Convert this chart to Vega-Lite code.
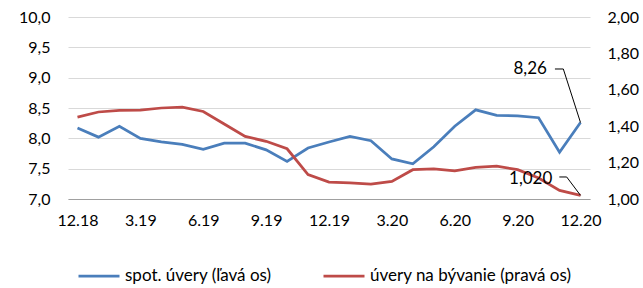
{
  "$schema": "https://vega.github.io/schema/vega-lite/v6.json",
  "width": 522,
  "height": 182,
  "autosize": "none",
  "padding": {"left": 68, "top": 17, "right": 53, "bottom": 89},
  "background": "white",
  "config": {
    "locale": {"number": {"decimal": ",", "thousands": " ", "grouping": [3], "currency": ["", " €"]}},
    "font": "Lato",
    "view": {"stroke": null},
    "axis": {"labelFont": "Lato", "labelFontSize": 16, "labelColor": "#000000", "ticks": false, "domain": false, "title": null, "grid": false},
    "legend": {"labelFont": "Lato", "labelFontSize": 17, "labelColor": "#000000", "labelLimit": 400}
  },
  "datasets": {
    "main": [
      {"t": 0, "spot": 8.17, "byv": 1.450},
      {"t": 1, "spot": 8.02, "byv": 1.478},
      {"t": 2, "spot": 8.20, "byv": 1.487},
      {"t": 3, "spot": 8.00, "byv": 1.489},
      {"t": 4, "spot": 7.94, "byv": 1.500},
      {"t": 5, "spot": 7.90, "byv": 1.505},
      {"t": 6, "spot": 7.82, "byv": 1.481},
      {"t": 7, "spot": 7.92, "byv": 1.412},
      {"t": 8, "spot": 7.92, "byv": 1.344},
      {"t": 9, "spot": 7.81, "byv": 1.317},
      {"t": 10, "spot": 7.62, "byv": 1.276},
      {"t": 11, "spot": 7.84, "byv": 1.134},
      {"t": 12, "spot": 7.94, "byv": 1.093},
      {"t": 13, "spot": 8.03, "byv": 1.088},
      {"t": 14, "spot": 7.96, "byv": 1.082},
      {"t": 15, "spot": 7.66, "byv": 1.097},
      {"t": 16, "spot": 7.58, "byv": 1.161},
      {"t": 17, "spot": 7.86, "byv": 1.166},
      {"t": 18, "spot": 8.20, "byv": 1.155},
      {"t": 19, "spot": 8.47, "byv": 1.174},
      {"t": 20, "spot": 8.38, "byv": 1.181},
      {"t": 21, "spot": 8.37, "byv": 1.161},
      {"t": 22, "spot": 8.34, "byv": 1.115},
      {"t": 23, "spot": 7.77, "byv": 1.047},
      {"t": 24, "spot": 8.26, "byv": 1.020}
    ],
    "leadSpot": [
      {"t": 22.78, "spot": 9.143, "label": "8,26", "start": true},
      {"t": 23.18, "spot": 9.143, "label": "8,26", "start": false},
      {"t": 24, "spot": 8.26, "label": "8,26", "start": false}
    ],
    "leadByv": [
      {"t": 22.99, "byv": 1.121, "label": "1,020", "start": true},
      {"t": 23.34, "byv": 1.121, "label": "1,020", "start": false},
      {"t": 24, "byv": 1.02, "label": "1,020", "start": false}
    ]
  },
  "encoding": {
    "x": {
      "field": "t", "type": "quantitative",
      "scale": {"domain": [-0.453, 24.453], "nice": false, "zero": false},
      "axis": {
        "values": [0, 3, 6, 9, 12, 15, 18, 21, 24],
        "labelExpr": "['12.18','3.19','6.19','9.19','12.19','3.20','6.20','9.20','12.20'][round(datum.value/3)]",
        "domain": true, "domainColor": "#a0a0a0", "domainWidth": 1,
        "labelPadding": 13, "zindex": 1
      }
    }
  },
  "layer": [
    {
      "encoding": {
        "y": {
          "field": "spot", "type": "quantitative",
          "scale": {"domain": [7, 10], "nice": false, "zero": false},
          "axis": {
            "values": [7, 7.5, 8, 8.5, 9, 9.5, 10],
            "format": ".1f",
            "grid": true, "gridColor": "#d9d9d9", "gridWidth": 1,
            "labelPadding": 18
          }
        }
      },
      "layer": [
        {
          "data": {"name": "main"},
          "mark": {"type": "line", "strokeWidth": 2.75},
          "encoding": {
            "color": {
              "datum": "spot. úvery (ľavá os)",
              "scale": {"domain": ["spot. úvery (ľavá os)", "úvery na bývanie (pravá os)"], "range": ["#4a7ebb", "#be4b48"]},
              "legend": {
                "orient": "none", "legendX": 9, "legendY": 237,
                "direction": "horizontal", "columns": 2, "title": null,
                "symbolType": "stroke", "symbolSize": 1681, "symbolStrokeWidth": 2.75,
                "labelOffset": 4, "columnPadding": 46, "padding": 0
              }
            }
          }
        },
        {
          "data": {"name": "leadSpot"},
          "mark": {"type": "line", "color": "#000000", "strokeWidth": 1},
          "encoding": {}
        },
        {
          "data": {"name": "leadSpot"},
          "transform": [{"filter": "datum.start"}],
          "mark": {"type": "text", "align": "right", "baseline": "middle", "dx": -8, "fontSize": 17, "font": "Lato", "color": "#000000"},
          "encoding": {"text": {"field": "label"}}
        }
      ]
    },
    {
      "encoding": {
        "y": {
          "field": "byv", "type": "quantitative",
          "scale": {"domain": [1, 2], "nice": false, "zero": false},
          "axis": {
            "orient": "right",
            "values": [1, 1.2, 1.4, 1.6, 1.8, 2],
            "format": ".2f",
            "grid": false,
            "labelPadding": 17
          }
        }
      },
      "layer": [
        {
          "data": {"name": "main"},
          "mark": {"type": "line", "strokeWidth": 2.75},
          "encoding": {"color": {"datum": "úvery na bývanie (pravá os)"}}
        },
        {
          "data": {"name": "leadByv"},
          "mark": {"type": "line", "color": "#000000", "strokeWidth": 1},
          "encoding": {}
        },
        {
          "data": {"name": "leadByv"},
          "transform": [{"filter": "datum.start"}],
          "mark": {"type": "text", "align": "right", "baseline": "middle", "dx": -7, "dy": 2, "fontSize": 17, "font": "Lato", "color": "#000000"},
          "encoding": {"text": {"field": "label"}}
        }
      ]
    }
  ],
  "resolve": {"scale": {"y": "independent"}}
}
